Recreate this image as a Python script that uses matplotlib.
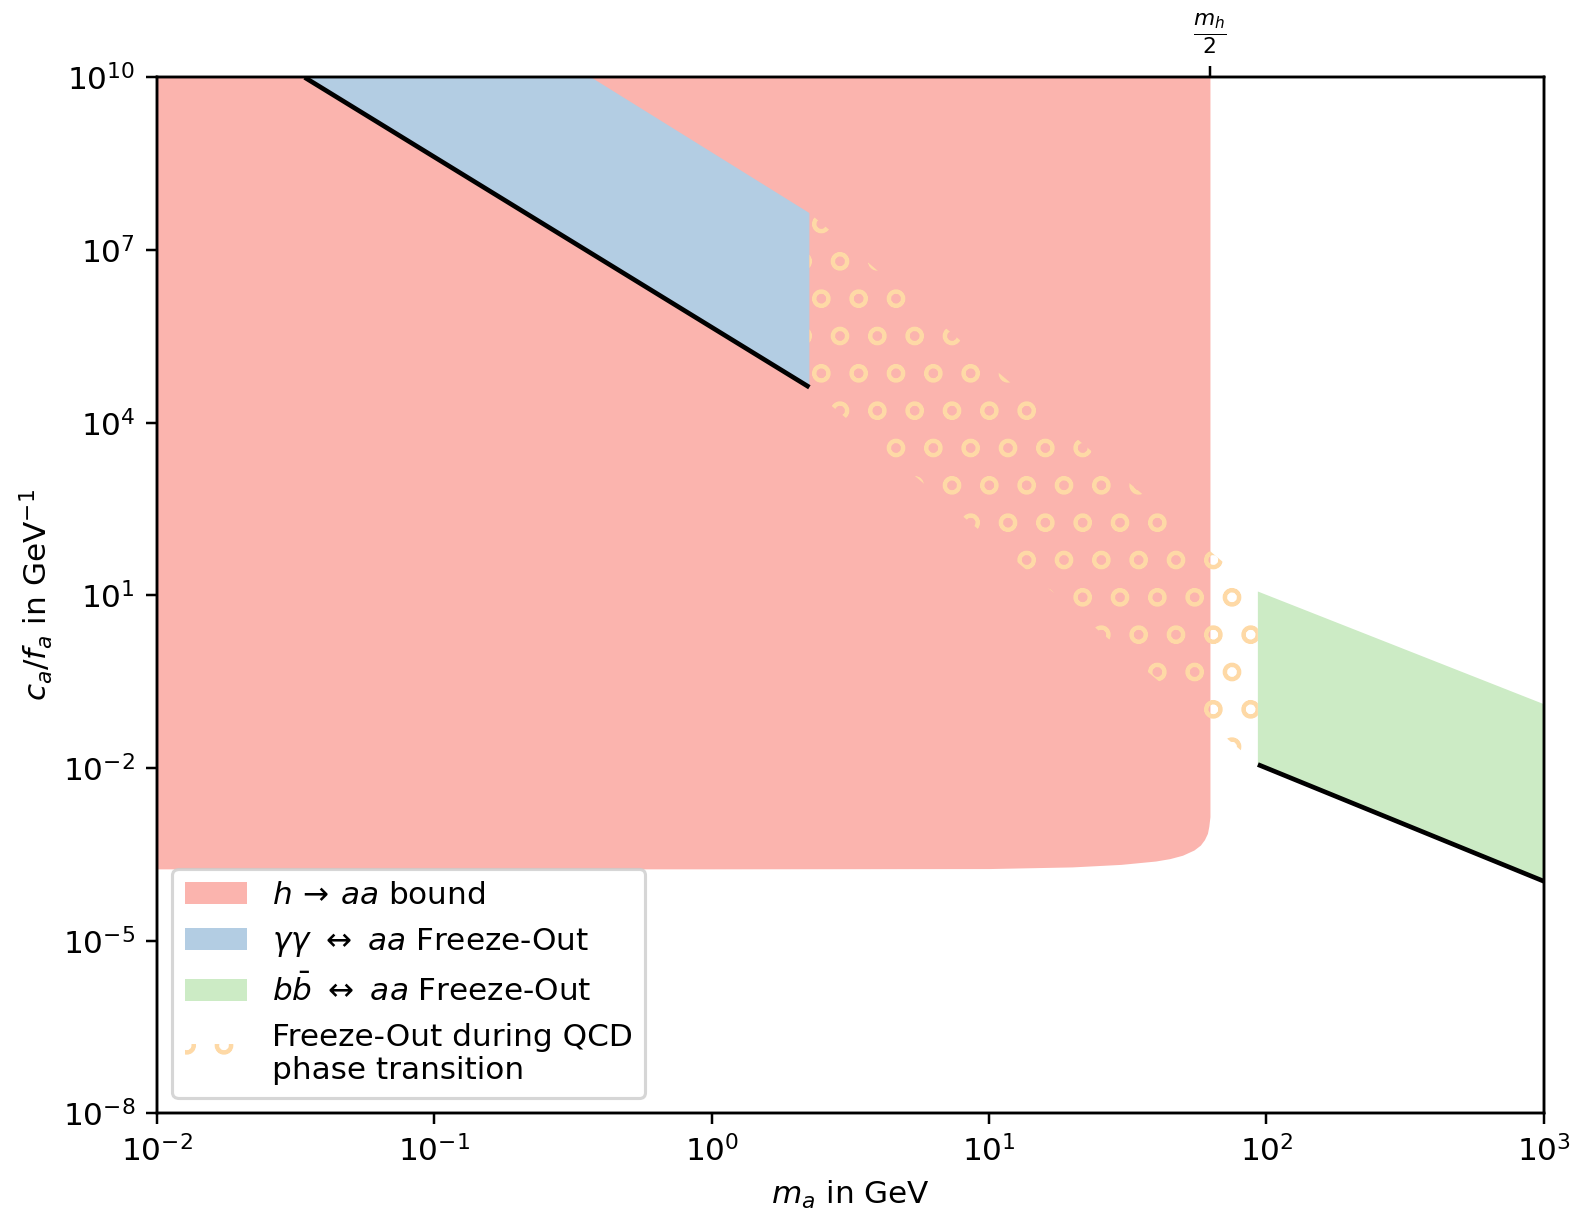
import matplotlib
matplotlib.use("Agg")
import matplotlib.pyplot as plt
import numpy as np

plt.rcParams["hatch.linewidth"] = 1.2

# ---- data ----
# h -> aa bound: lower boundary of excluded region (m_a in GeV, c_a/f_a in GeV^-1)
red_m = [0.01, 1.0, 10.0, 20.0, 30.0, 40.0, 45.0, 50.0, 55.0, 58.0, 60.0, 61.5, 62.2, 62.8]
red_low = [1.74e-4, 1.74e-4, 1.76e-4, 1.88e-4, 2.08e-4, 2.38e-4, 2.62e-4, 3.0e-4,
           3.7e-4, 4.5e-4, 5.6e-4, 7.2e-4, 9.5e-4, 1.4e-3]
y_top = 1e10

# gamma gamma <-> aa freeze-out band (polygon)
blue_m = [0.0341, 2.25, 2.25, 0.368]
blue_c = [1e10, 4.14e4, 4.4e7, 1e10]
blue_line_m = [0.0341, 2.25]
blue_line_c = [1e10, 4.14e4]

# b bbar <-> aa freeze-out band
green_m = [93.1, 1000.0, 1000.0, 93.1]
green_c = [1.153e-2, 1.08e-4, 0.129, 11.7]
green_line_m = [93.1, 1000.0]
green_line_c = [1.153e-2, 1.08e-4]

# freeze-out during QCD phase transition (parallelogram)
qcd_m = [2.25, 2.25, 93.1, 93.1]
qcd_c = [4.14e4, 4.4e7, 11.7, 1.153e-2]

m_half_higgs = 62.5

xticks = [1e-2, 1e-1, 1e0, 1e1, 1e2, 1e3]
yticks = [1e-8, 1e-5, 1e-2, 1e1, 1e4, 1e7, 1e10]

c_red = "#fbb4ae"
c_blue = "#b3cde3"
c_green = "#ccebc5"
c_orange = "#fed9a6"

dpi = 224
fig = plt.figure(figsize=(1577 / dpi, 1208 / dpi), dpi=dpi)
ax = fig.add_axes([0.0995, 0.0783, 0.8795, 0.8576])
ax.set_xscale("log")
ax.set_yscale("log")

ax.fill_between(red_m, red_low, y_top, facecolor=c_red, edgecolor="none",
                linewidth=0, label=r"$h\,\rightarrow\,aa$ bound", zorder=1)
ax.fill(blue_m, blue_c, facecolor=c_blue, edgecolor="none", linewidth=0,
        label=r"$\gamma\gamma\ \leftrightarrow\ aa$ Freeze-Out", zorder=2)
ax.fill(green_m, green_c, facecolor=c_green, edgecolor="none", linewidth=0,
        label=r"$b\bar{b}\ \leftrightarrow\ aa$ Freeze-Out", zorder=2)
ax.fill(qcd_m, qcd_c, facecolor="none", edgecolor=c_orange, hatch="o", linewidth=0,
        label="Freeze-Out during QCD\nphase transition", zorder=3)
ax.plot(blue_line_m, blue_line_c, color="black", lw=1.5, zorder=4, solid_capstyle="butt")
ax.plot(green_line_m, green_line_c, color="black", lw=1.5, zorder=4, solid_capstyle="butt")

ax.set_xlim(1e-2, 1e3)
ax.set_ylim(1e-8, 1e10)
ax.set_xticks(xticks)
ax.set_yticks(yticks)
ax.minorticks_off()
ax.tick_params(labelsize=10)
ax.set_xlabel(r"$m_a$ in GeV", fontsize=10, labelpad=3.5)
ax.set_ylabel(r"$c_a/f_a$ in GeV$^{-1}$", fontsize=10, labelpad=2.5)

ax2 = ax.twiny()
ax2.set_xscale("log")
ax2.set_xlim(ax.get_xlim())
ax2.set_xticks([m_half_higgs])
ax2.set_xticklabels([r"$\frac{m_h}{2}$"])
ax2.minorticks_off()
ax2.tick_params(labelsize=10)

ax.legend(loc="lower left", fontsize=10)

fig.savefig("out.png", dpi=dpi)
